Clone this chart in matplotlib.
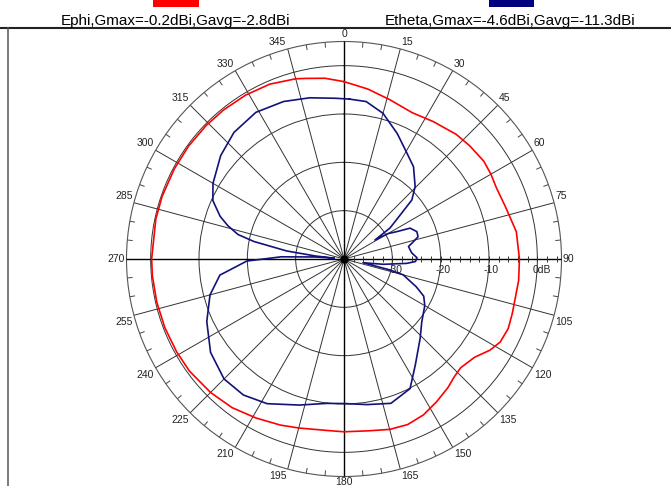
import numpy as np
import matplotlib
matplotlib.use("Agg")
import matplotlib.pyplot as plt
from matplotlib.patches import Rectangle
from matplotlib.lines import Line2D

plt.rcParams["font.family"] = ["Liberation Sans", "DejaVu Sans"]

# Ephi cut (red): angle in degrees, clockwise from top; gain in dBi
ephi_deg = [0, 8, 16, 25, 33, 42, 48, 55, 60, 65, 72, 81, 90,
            97, 103, 108, 113, 118, 122, 127, 133, 137, 141, 147, 153, 159, 165,
            172, 180, 186, 195, 201, 209, 217, 225, 234, 241, 249, 257, 265,
            270, 282, 289, 298, 306, 314, 321, 329, 337, 345, 348, 354]
ephi_db = [-3.3, -4.5, -5.7, -6.6, -6.1, -5.3, -5.0, -4.7, -4.9, -5.2, -4.9, -3.9, -3.7,
           -3.6, -3.65, -3.4, -3.1, -3.4, -4.4, -6.2, -7.0, -6.6, -5.8, -4.8, -3.8, -3.3, -3.5,
           -4.1, -4.25, -4.35, -3.8, -3.2, -2.4, -1.5, -0.95, -0.5, -0.4, -0.3, -0.25, -0.2,
           -0.2, -0.2, -0.2, -0.25, -0.25, -0.3, -0.35, -0.45, -0.7, -1.4, -1.8, -2.4]

# Etheta cut (blue)
etheta_deg = [2, 8, 15, 23, 30, 37, 44.5, 49, 52, 56, 58.5,
              60, 62.6, 65, 69.4, 73.3, 75, 77, 79, 82, 85, 89, 92, 94, 97.7, 101,
              103.4, 105, 107, 111, 115, 120, 129, 136, 146, 153, 162, 171, 180,
              187, 197, 208, 216.5, 225, 235, 245.5, 255, 262.6, 268.8, 272, 274, 275,
              276, 278, 281, 283, 286, 289, 294, 300, 310, 319, 329, 339, 348, 357]
etheta_db = [-6.9, -7.1, -8.8, -11.8, -14.3, -16.1, -19.0, -21.4, -25.3, -28.5, -32.5,
             -29.5, -27.7, -24.9, -23.9, -24.0, -24.8, -25.6, -26.4, -26.2, -25.9, -24.9, -25.2, -27.0, -31.8, -36.0,
             -30.2, -27.3, -26.4, -24.0, -21.8, -20.7, -19.3, -17.3, -13.6, -9.9, -8.6, -9.5, -10.1,
             -9.9, -8.4, -6.1, -5.0, -4.9, -6.3, -8.8, -11.3, -14.1, -19.9, -27.0, -34.0, -38.0,
             -34.0, -28.0, -21.0, -17.5, -15.0, -12.9, -10.3, -8.7, -6.7, -5.3, -4.6, -5.1, -5.9, -6.7]

angle_ticks = list(range(0, 360, 15))
ring_db = [-30, -20, -10, 0]
ring_labels = ["-30", "-20", "-10", "0dB"]
legend_text = ["Ephi,Gmax=-0.2dBi,Gavg=-2.8dBi",
               "Etheta,Gmax=-4.6dBi,Gavg=-11.3dBi"]
R_MIN, R_MAX = -40, 5

W, H = 671, 486
fig = plt.figure(figsize=(W / 100, H / 100), dpi=100)
fig.patch.set_facecolor("white")

# polar area: centre (344, 259) px, outer radius 217.5 px
ax = fig.add_axes([126.5 / W, (H - 476.5) / H, 435 / W, 435 / H], projection="polar")
ax.set_theta_zero_location("N")
ax.set_theta_direction(-1)
ax.set_ylim(R_MIN, R_MAX)
ax.set_xticks(np.deg2rad(angle_ticks))
ax.set_xticklabels([])
ax.set_yticks(ring_db)
ax.set_yticklabels([])
ax.tick_params(length=0)
ax.grid(True, color="#333333", lw=0.7)
ax.spines["polar"].set_color("#555555")
ax.spines["polar"].set_linewidth(0.8)

# main cross axes
for a in [0, 90, 180, 270]:
    ax.plot([np.deg2rad(a)] * 2, [R_MIN, R_MAX], color="black", lw=1.0, zorder=3)

# 5 degree ticks on the outer circle
for a in range(0, 360, 5):
    if a % 15:
        ax.plot([np.deg2rad(a)] * 2, [R_MAX - 1.0, R_MAX], color="#444444", lw=0.7)

# dB ticks along the 90 degree axis
db_ticks = np.arange(R_MIN + 2, R_MAX, 2)
ax.plot(np.full(len(db_ticks), np.pi / 2), db_ticks, ls="none", marker="|",
        ms=4, mew=0.7, color="#333333", zorder=3)

# pattern curves
t = np.deg2rad(ephi_deg + [ephi_deg[0] + 360])
ax.plot(t, ephi_db + [ephi_db[0]], color="#ff0000", lw=1.2, zorder=4)
t = np.deg2rad(etheta_deg + [etheta_deg[0] + 360])
ax.plot(t, etheta_db + [etheta_db[0]], color="#12127a", lw=1.2, zorder=4)

ax.plot([0], [R_MIN], "o", ms=5, color="black", zorder=5)

# ring labels
for val, lab in zip(ring_db, ring_labels):
    ax.annotate(lab, xy=(np.pi / 2, val), xytext=(-3.6, -4.0), textcoords="offset points",
                ha="left", va="top", fontsize=7.5, color="#222222", annotation_clip=False)

# angle labels
for a in angle_ticks:
    if a in (0, 180):
        ha, dx = "center", 0
    elif a < 180:
        ha, dx = "left", 1.0
    else:
        ha, dx = "right", -1.0
    if a in (90, 270):
        va, dy = "center", 0
    elif a < 90 or a > 270:
        va, dy = "bottom", 1.5
    elif a == 180:
        va, dy = "top", 0
    else:
        va, dy = "top", -1.5
    ax.annotate(str(a), xy=(np.deg2rad(a), R_MAX), xytext=(dx, dy), textcoords="offset points",
                ha=ha, va=va, fontsize=7.5, color="#222222", annotation_clip=False)

# frame lines
fig.add_artist(Line2D([0, 1], [(H - 28.3) / H] * 2, transform=fig.transFigure,
                      color="#222222", lw=1.5))
fig.add_artist(Line2D([8.3 / W] * 2, [0, (H - 28.3) / H], transform=fig.transFigure,
                      color="#555555", lw=1.1))

# legend
fig.add_artist(Rectangle((153 / W, (H - 6.7) / H), 46 / W, 8 / H, transform=fig.transFigure,
                         facecolor="#ff0000", edgecolor="none"))
fig.add_artist(Rectangle((489 / W, (H - 6.7) / H), 45 / W, 8 / H, transform=fig.transFigure,
                         facecolor="#00007f", edgecolor="none"))
fig.text(175.7 / W, (H - 24.5) / H, legend_text[0], ha="center", va="baseline", fontsize=11)
fig.text(510.3 / W, (H - 24.5) / H, legend_text[1], ha="center", va="baseline", fontsize=11)

fig.savefig("out.png", dpi=100, facecolor="white")
